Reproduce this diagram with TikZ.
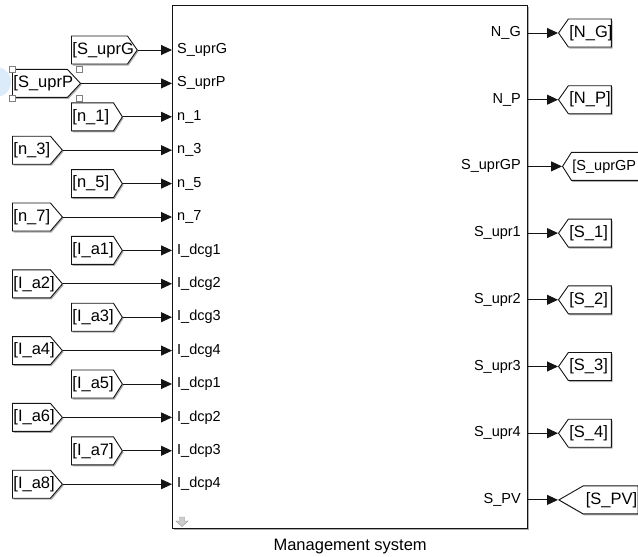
\documentclass[tikz,border=0pt]{standalone}
\usepackage{fontspec}
\setmainfont{Liberation Sans}
\usepackage{tikz}
\usetikzlibrary{shapes.symbols, arrows.meta, positioning, calc, shadows}
\definecolor{simLine}{HTML}{141414}
\definecolor{simShadow}{HTML}{8C8C8C}
\definecolor{simSelect}{HTML}{DCEBFA}
\definecolor{simIcon}{HTML}{CDCDCD}
\tikzset{
  portlbl/.style={font=\fontsize{14.5}{16}\selectfont, inner sep=0pt},
  tagbox/.style={shape=signal, draw=simLine, fill=white, line width=0.9pt,
    minimum height=28pt, inner xsep=1pt, inner ysep=0pt,
    font=\fontsize{16.5}{18}\selectfont,
    drop shadow={shadow xshift=1.2pt, shadow yshift=-1.5pt, fill=simShadow, opacity=0.7}},
  fromtag/.style={tagbox, signal to=east, signal pointer angle=#1},
  gototag/.style={tagbox, signal to=west, signal pointer angle=#1},
  sigarrow/.style={-{Triangle[length=11pt,width=10pt]}, line width=0.9pt, draw=simLine},
}

\begin{document}
\begin{tikzpicture}[x=1pt, y=-1pt]
  \useasboundingbox (0,0) rectangle (638,557);

  % selection marks left over from the model editor
  \fill[simSelect] (-4,82) circle (15);

  \node[draw=simLine, line width=1.3pt, fill=white, minimum width=355pt,
    minimum height=523pt, inner sep=0pt, anchor=north west,
    drop shadow={shadow xshift=1.5pt, shadow yshift=-1.5pt, fill=simShadow, opacity=0.7}]
    (mgmt) at (172,5) {};
  \node[font=\fontsize{16.5}{19}\selectfont, inner sep=0pt, below=10pt of mgmt]
    (mgmtcap) {Management system};

  \draw[simIcon!70!black, fill=simIcon, line width=0.4pt]
    (179.5,517) -- (184.5,517) -- (184.5,521) -- (188,521) -- (182,526.5)
    -- (176,521) -- (179.5,521) -- cycle;

  \foreach \port/\tg/\tx/\tw/\ang [count=\i from 0] in {
      S\_uprG/{[S\_uprG}/71/54/110, S\_uprP/{[S\_uprP}/12/53/94,
      n\_1/{[n\_1]}/71/40/115, n\_3/{[n\_3]}/12/36/99,
      n\_5/{[n\_5]}/71/40/115, n\_7/{[n\_7]}/12/36/99,
      I\_dcg1/{[I\_a1]}/71/40/115, I\_dcg2/{[I\_a2]}/12/36/99,
      I\_dcg3/{[I\_a3]}/71/40/115, I\_dcg4/{[I\_a4]}/12/36/99,
      I\_dcp1/{[I\_a5]}/71/40/115, I\_dcp2/{[I\_a6]}/12/36/99,
      I\_dcp3/{[I\_a7]}/71/40/115, I\_dcp4/{[I\_a8]}/12/36/99} {
    \coordinate (in\i) at (172, {50+33.4*\i});
    \node[portlbl, anchor=west] (inlbl\i) at ([xshift=5pt]in\i) {\port};
    \node[fromtag=\ang, anchor=west] (from\i) at (\tx, {50+33.4*\i})
      {\makebox[\tw pt][l]{\tg}};
    \draw[sigarrow] (from\i.east) -- (from\i.east -| mgmt.west);
  }

  \foreach \port/\tg/\tx/\tw/\ang/\al [count=\i from 0] in {
      N\_G/{[N\_G]}/558/41/110/l, N\_P/{[N\_P]}/558/41/110/l,
      S\_uprGP/{\fontsize{14.5}{16}\selectfont[S\_uprGP}/562/75/115/l,
      S\_upr1/{[S\_1]}/558/41/110/l,
      S\_upr2/{[S\_2]}/558/41/110/l, S\_upr3/{[S\_3]}/558/41/110/l,
      S\_upr4/{[S\_4]}/558/41/110/l, S\_PV/{[S\_PV]}/558/53/60/r} {
    \node[portlbl, anchor=east] (outlbl\i) at (521, {33+66.7*\i}) {\port};
    \node[gototag=\ang, anchor=west] (goto\i) at (\tx, {33+66.7*\i})
      {\makebox[\tw pt][\al]{\tg}};
    \draw[sigarrow] (goto\i.west -| mgmt.east) -- (goto\i.west);
  }

  \foreach \sx/\sy in {12/69, 79/69, 12/98, 79/98}
    \draw[gray, fill=white, line width=0.5pt] (\sx-3,\sy-3) rectangle ++(6,6);
\end{tikzpicture}
\end{document}
